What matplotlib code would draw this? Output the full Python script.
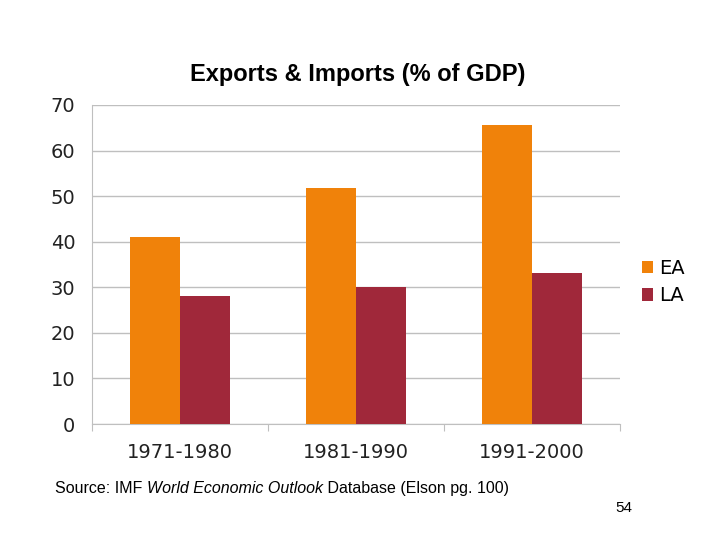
import matplotlib.pyplot as plt
import numpy as np

periods = ["1971-1980", "1981-1990", "1991-2000"]
ea = [41.0, 51.8, 65.6]
la = [28.1, 30.0, 33.1]
y_ticks = [0, 10, 20, 30, 40, 50, 60, 70]

fig = plt.figure(figsize=(7.2, 5.4), dpi=100)
ax = fig.add_axes([92 / 720, 1 - 424 / 540, 528 / 720, 319 / 540])

x = np.arange(len(periods))
w = 1 / 3.5
ax.bar(x - w / 2, ea, w, color="#F0820A", label="EA", zorder=3)
ax.bar(x + w / 2, la, w, color="#A0283A", label="LA", zorder=3)

ax.set_xlim(-0.5, 2.5)
ax.set_ylim(0, 70)
ax.set_yticks(y_ticks)
ax.set_yticklabels([str(v) for v in y_ticks], fontsize=14, family="DejaVu Sans", color="#222222")
ax.yaxis.grid(True, color="#BFBFBF", linewidth=1, zorder=0)
ax.tick_params(axis="y", length=0, pad=12)

ax.set_xticks([-0.5, 0.5, 1.5, 2.5])
ax.set_xticklabels([])
ax.tick_params(axis="x", length=5, color="#BFBFBF", direction="out")
ax.set_xticks(x, minor=True)
ax.set_xticklabels(periods, minor=True, fontsize=14, family="DejaVu Sans", color="#222222")
ax.tick_params(axis="x", which="minor", length=0, pad=14)

for s in ["top", "right"]:
    ax.spines[s].set_visible(False)
ax.spines["left"].set_color("#BFBFBF")
ax.spines["bottom"].set_color("#BFBFBF")

fig.text(358 / 720, 1 - 75 / 540, "Exports & Imports (% of GDP)", ha="center", va="center",
         fontsize=17, fontweight="bold", family="Liberation Sans")

fig.legend(loc="center left", bbox_to_anchor=(624 / 720, 1 - 282 / 540), frameon=False,
           handlelength=0.6, handleheight=0.6, handletextpad=0.3,
           labelspacing=0.45, prop={"family": "DejaVu Sans", "size": 14})

renderer = fig.canvas.get_renderer()
parts = [("Source: IMF ", "normal"), ("World Economic Outlook", "italic"),
         (" Database (Elson pg. 100)", "normal")]
x0 = 55
for txt, style in parts:
    t = fig.text(x0 / 720, 1 - 493 / 540, txt, ha="left", va="baseline", fontsize=11.5,
                 family="Liberation Sans", style=style)
    x0 += t.get_window_extent(renderer=renderer).width
fig.text(632 / 720, 1 - 508 / 540, "54", ha="right", va="center", fontsize=11,
         family="Liberation Sans")

fig.savefig("out.png", dpi=100)
